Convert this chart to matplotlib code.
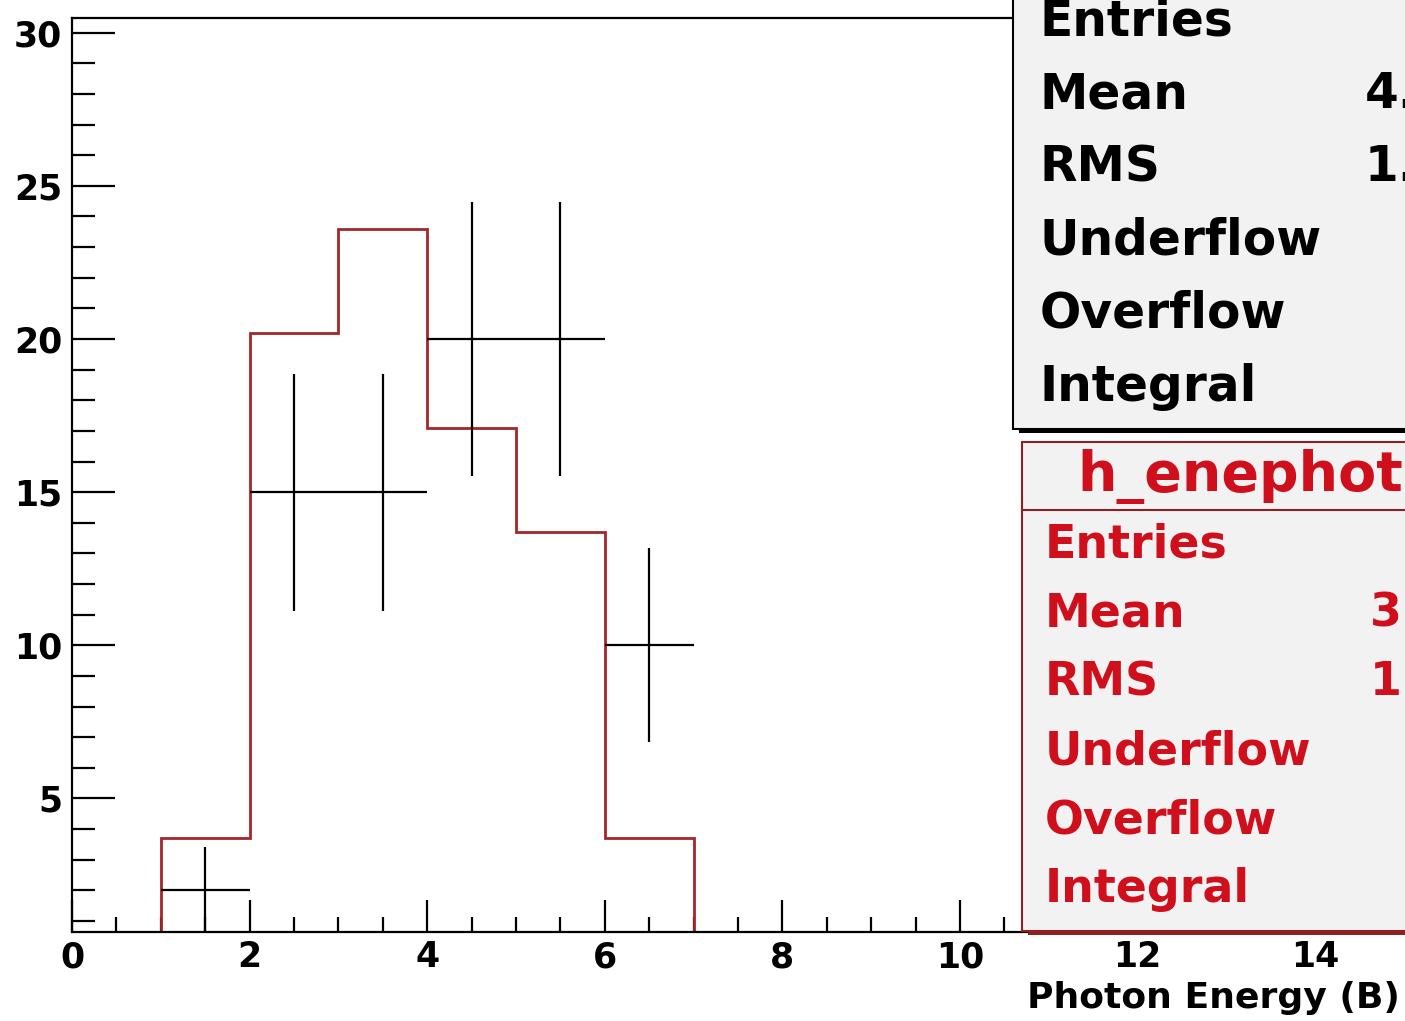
import numpy as np
import matplotlib.pyplot as plt
from matplotlib.patches import Rectangle
from matplotlib.lines import Line2D
from matplotlib.ticker import MultipleLocator, FixedLocator

W, H = 1405, 1021

# photon energy histograms, unit bins
edges = np.arange(0, 17, 1.0)
data_counts = np.array([0, 2, 15, 15, 20, 20, 10, 0, 0, 0, 0, 0, 0, 0, 0, 0])
mc_counts = np.array([0, 3.7, 20.2, 23.6, 17.1, 13.7, 3.7, 0, 0, 0, 0, 0, 0, 0, 0, 0])
x_major = [0, 2, 4, 6, 8, 10, 12, 14]

stat_labels = ["Entries", "Mean", "RMS", "Underflow", "Overflow", "Integral"]
mc_name = "h_enephotB"
x_title = "Photon Energy (B)"

XMIN, XMAX = 0, 16
YMIN, YMAX = 0.65, 30.47

RED_TXT = "#cf0f1c"
RED_BOX = "#8e1f22"
RED_LINE = "#a52628"
BOX_FILL = "#f2f2f2"

plt.rcParams['font.family'] = ['DejaVu Sans']
plt.rcParams['font.weight'] = 'bold'


def fx(x):
    return x / W


def fy(y):
    return 1 - y / H


def hist_stats(w):
    c = 0.5 * (edges[:-1] + edges[1:])
    mean = np.sum(w * c) / np.sum(w)
    rms = np.sqrt(np.sum(w * (c - mean) ** 2) / np.sum(w))
    return mean, rms


fig = plt.figure(figsize=(W / 100, H / 100), dpi=100)
ax = fig.add_axes([fx(72), fy(931.7), XMAX * 88.8 / W, (931.7 - 18.3) / H])

# MC shape, empty bins sit on the bottom of the frame
ax.stairs(np.clip(mc_counts, YMIN, None), edges, baseline=None,
          color=RED_LINE, lw=2.0, zorder=2)

centers = 0.5 * (edges[:-1] + edges[1:])
filled = data_counts > 0
ax.errorbar(centers[filled], data_counts[filled], xerr=0.5,
            yerr=np.sqrt(data_counts[filled]), fmt='none',
            ecolor='k', elinewidth=1.6, capsize=0, zorder=3)

ax.set_xlim(XMIN, XMAX)
ax.set_ylim(YMIN, YMAX)
ax.xaxis.set_major_locator(FixedLocator(x_major))
ax.xaxis.set_minor_locator(MultipleLocator(0.5))
ax.yaxis.set_major_locator(MultipleLocator(5))
ax.yaxis.set_minor_locator(MultipleLocator(1))
ax.tick_params(axis='y', which='major', direction='in', length=31, width=1.6,
               pad=7, labelsize=25)
ax.tick_params(axis='y', which='minor', direction='in', length=16.5, width=1.6)
ax.tick_params(axis='x', which='major', direction='in', length=23, width=1.6,
               pad=6, labelsize=25)
ax.tick_params(axis='x', which='minor', direction='in', length=11, width=1.6)
for lab in ax.get_xticklabels() + ax.get_yticklabels():
    lab.set_fontweight('bold')
for sp in ax.spines.values():
    sp.set_linewidth(1.6)

fig.text(fx(1400), fy(1008), x_title, ha='right', va='baseline',
         fontsize=26, fontweight='bold')

# stat box of the data histogram
fig.add_artist(Rectangle((fx(1019), fy(433)), fx(800), fy(-60) - fy(433),
                         transform=fig.transFigure, facecolor='k',
                         edgecolor='none', zorder=5))
fig.add_artist(Rectangle((fx(1013), fy(429)), fx(800), fy(-60) - fy(429),
                         transform=fig.transFigure, facecolor=BOX_FILL,
                         edgecolor='k', lw=1.5, zorder=6))
d_mean, d_rms = hist_stats(data_counts)
for i, lab in enumerate(stat_labels):
    fig.text(fx(1040), fy(35 + 73.2 * i), lab, ha='left', va='baseline',
             fontsize=35, fontweight='bold', color='k', zorder=7)
fig.text(fx(1365), fy(35 + 73.2), "%.3f" % d_mean, ha='left', va='baseline',
         fontsize=35, fontweight='bold', color='k', zorder=7)
fig.text(fx(1365), fy(35 + 73.2 * 2), "%.3f" % d_rms, ha='left', va='baseline',
         fontsize=35, fontweight='bold', color='k', zorder=7)

# stat box of the MC histogram
fig.add_artist(Rectangle((fx(1028), fy(935)), fx(800), fy(446) - fy(935),
                         transform=fig.transFigure, facecolor=RED_BOX,
                         edgecolor='none', zorder=5))
fig.add_artist(Rectangle((fx(1022), fy(931)), fx(800), fy(442) - fy(931),
                         transform=fig.transFigure, facecolor=BOX_FILL,
                         edgecolor=RED_BOX, lw=1.5, zorder=6))
fig.add_artist(Line2D([fx(1022), fx(1900)], [fy(510), fy(510)],
                      transform=fig.transFigure, color=RED_BOX, lw=1.5,
                      zorder=7))
fig.text(fx(1077), fy(491), mc_name, ha='left', va='baseline',
         fontsize=40, fontweight='bold', color=RED_TXT, zorder=7)
m_mean, m_rms = hist_stats(mc_counts)
for i, lab in enumerate(stat_labels):
    fig.text(fx(1045), fy(558 + 68.8 * i), lab, ha='left', va='baseline',
             fontsize=33, fontweight='bold', color=RED_TXT, zorder=7)
fig.text(fx(1370), fy(558 + 68.8), "%.3f" % m_mean, ha='left', va='baseline',
         fontsize=33, fontweight='bold', color=RED_TXT, zorder=7)
fig.text(fx(1370), fy(558 + 68.8 * 2), "%.3f" % m_rms, ha='left', va='baseline',
         fontsize=33, fontweight='bold', color=RED_TXT, zorder=7)

fig.savefig("out.png", dpi=100)
